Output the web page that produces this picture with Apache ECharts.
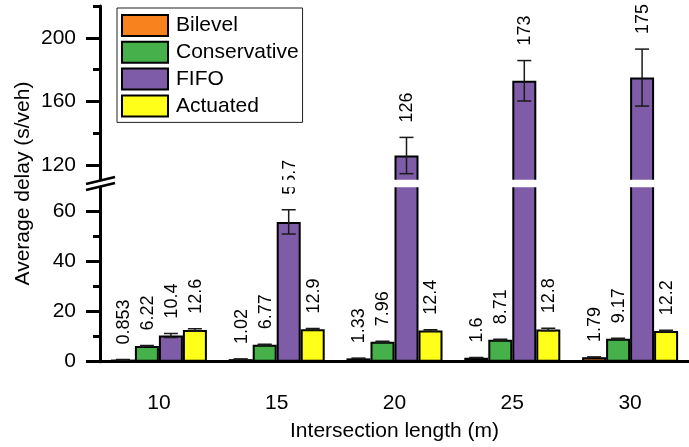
<!DOCTYPE html>
<html>
<head>
<meta charset="utf-8">
<script src="https://cdn.jsdelivr.net/npm/echarts@6/dist/echarts.min.js"></script>
<style>html,body{margin:0;padding:0;background:#fff;}#c{width:689px;height:447px;}</style>
</head>
<body>
<div id="c"></div>
<script>
// ---- data ----
const categories = ['10', '15', '20', '25', '30'];
const seriesNames = ['Bilevel', 'Conservative', 'FIFO', 'Actuated'];
const bilevel = [0.853, 1.02, 1.33, 1.6, 1.79];
const conservative = [6.22, 6.77, 7.96, 8.71, 9.17];
const fifo = [10.4, 55.7, 126, 173, 175];
const actuated = [12.6, 12.9, 12.4, 12.8, 12.2];
const bilevelErr = [0.05, 0.05, 0.05, 0.05, 0.05];
const conservativeErr = [0.2, 0.2, 0.2, 0.2, 0.2];
const fifoErr = [0.8, 4.8, 11.4, 12.7, 17.9];
const actuatedErr = [0.5, 0.3, 0.3, 0.5, 0.3];
const lowerRange = [0, 70];
const upperRange = [110, 220];
const lowerTicks = [0, 20, 40, 60];
const lowerMinorTicks = [10, 30, 50];
const upperTicks = [120, 160, 200];
const upperMinorTicks = [140, 180, 220];

// ---- style ----
const colors = ['#F8821E', '#46B14B', '#7F5CA8', '#FFFF1A'];
const FONT = '"Liberation Sans", Arial, Helvetica, sans-serif';
const BAR_W = 24;
const GRID_LEFT = 100, GRID_W = 593;
const UP_TOP = 6, UP_BOTTOM = 181;
const LO_TOP = 186, LO_BOTTOM = 361.7;

const values = [bilevel, conservative, fifo, actuated];
const errors = [bilevelErr, conservativeErr, fifoErr, actuatedErr];

function items(range) {
  const out = [];
  values.forEach((arr, s) => arr.forEach((v, i) => {
    if (v >= range[0] && v <= range[1]) out.push([i, v, errors[s][i], s]);
  }));
  return out;
}

function errRender(params, api) {
  const i = api.value(0), v = api.value(1), e = api.value(2), s = api.value(3);
  const cx = api.coord([i, v])[0] + (s - 1.5) * BAR_W;
  const yTop = api.coord([i, v + e])[1];
  const yBot = api.coord([i, v - e])[1];
  const st = { stroke: '#1a1a1a', lineWidth: 1.5 };
  return { type: 'group', children: [
    { type: 'line', shape: { x1: cx, y1: yTop, x2: cx, y2: yBot }, style: st },
    { type: 'line', shape: { x1: cx - 7, y1: yTop, x2: cx + 7, y2: yTop }, style: st },
    { type: 'line', shape: { x1: cx - 7, y1: yBot, x2: cx + 7, y2: yBot }, style: st }
  ]};
}
function labelRender(params, api) {
  const i = api.value(0), v = api.value(1), e = api.value(2), s = api.value(3);
  const cx = api.coord([i, v])[0] + (s - 1.5) * BAR_W;
  const yTop = api.coord([i, v + e])[1];
  return { type: 'text', x: cx + 1, y: yTop - 15, rotation: Math.PI / 2,
    style: { text: String(v), fontSize: 18, fontFamily: FONT, fill: '#000', align: 'left', verticalAlign: 'middle' } };
}

const series = [];
seriesNames.forEach((name, s) => {
  series.push({ name, type: 'bar', xAxisIndex: 0, yAxisIndex: 0, data: values[s],
    barWidth: BAR_W, barGap: '0%', clip: true,
    itemStyle: { color: colors[s], borderColor: '#000', borderWidth: 2 } });
});
seriesNames.forEach((name, s) => {
  series.push({ name, type: 'bar', xAxisIndex: 1, yAxisIndex: 2,
    data: values[s].map(v => (v >= upperRange[0] ? v : null)),
    barWidth: BAR_W, barGap: '0%', clip: true,
    itemStyle: { color: colors[s], borderColor: '#000', borderWidth: 2 } });
});
series.push({ type: 'custom', xAxisIndex: 0, yAxisIndex: 0, clip: true, z: 5,
  data: items(lowerRange), renderItem: errRender, encode: { x: 0, y: 1 } });
series.push({ type: 'custom', xAxisIndex: 1, yAxisIndex: 2, clip: true, z: 5,
  data: items(upperRange), renderItem: errRender, encode: { x: 0, y: 1 } });
series.push({ type: 'custom', xAxisIndex: 0, yAxisIndex: 0, clip: false, z: 5,
  data: items(lowerRange), renderItem: labelRender, encode: { x: 0, y: 1 } });
series.push({ type: 'custom', xAxisIndex: 1, yAxisIndex: 2, clip: false, z: 5,
  data: items(upperRange), renderItem: labelRender, encode: { x: 0, y: 1 } });

const axisLineStyle = { color: '#000', width: 3 };
function yAxis(grid, range, ticks, minor, main) {
  return {
    type: 'value', gridIndex: grid, min: range[0], max: range[1], position: 'left',
    splitLine: { show: false },
    axisLine: { show: main, onZero: false, lineStyle: axisLineStyle },
    axisTick: { show: true, customValues: main ? ticks : minor, length: main ? 14 : 7, lineStyle: axisLineStyle },
    axisLabel: { show: main, customValues: ticks, margin: 24, fontSize: 21, fontFamily: FONT, color: '#000' }
  };
}

const breakY1 = UP_BOTTOM, breakY2 = LO_TOP;
const option = {
  animation: false,
  backgroundColor: '#fff',
  grid: [
    { left: GRID_LEFT, top: LO_TOP, width: GRID_W, height: LO_BOTTOM - LO_TOP },
    { left: GRID_LEFT, top: UP_TOP, width: GRID_W, height: UP_BOTTOM - UP_TOP }
  ],
  xAxis: [
    { type: 'category', gridIndex: 0, data: categories,
      axisLine: { lineStyle: axisLineStyle },
      axisTick: { alignWithLabel: true, length: 15, lineStyle: axisLineStyle },
      axisLabel: { margin: 31, fontSize: 21, fontFamily: FONT, color: '#000' },
      name: 'Intersection length (m)', nameLocation: 'middle', nameGap: 59,
      nameTextStyle: { fontSize: 21, fontFamily: FONT, color: '#000' } },
    { type: 'category', gridIndex: 1, data: categories, show: false }
  ],
  yAxis: [
    yAxis(0, lowerRange, lowerTicks, lowerMinorTicks, true),
    yAxis(0, lowerRange, lowerTicks, lowerMinorTicks, false),
    yAxis(1, upperRange, upperTicks, upperMinorTicks, true),
    yAxis(1, upperRange, upperTicks, upperMinorTicks, false)
  ],
  legend: {
    data: seriesNames, orient: 'vertical', left: 117, top: 8,
    itemWidth: 46, itemHeight: 21, itemGap: 3.8, icon: 'rect',
    padding: [6, 4, 5, 4],
    borderColor: '#222', borderWidth: 1, backgroundColor: '#fff',
    itemStyle: { borderColor: '#000', borderWidth: 2 },
    textStyle: { fontSize: 21, lineHeight: 21, fontFamily: FONT, color: '#000', padding: [0, 0, 0, 3] }
  },
  graphic: [
    { type: 'rect', z: 50, shape: { x: GRID_LEFT + 1.6, y: breakY1 - 1.2, width: 600, height: breakY2 - breakY1 + 2.4 },
      style: { fill: '#fff' } },
    { type: 'line', z: 51, shape: { x1: GRID_LEFT, y1: breakY1 - 1, x2: GRID_LEFT, y2: breakY2 + 1 }, style: { stroke: '#000', lineWidth: 3 } },
    { type: 'polygon', z: 52, shape: { points: [[86, 184], [115, 177], [115, 183], [86, 190]] }, style: { fill: '#fff' } },
    { type: 'line', z: 53, shape: { x1: 86, y1: 184, x2: 115, y2: 177 }, style: { stroke: '#000', lineWidth: 2.5 } },
    { type: 'line', z: 53, shape: { x1: 86, y1: 190, x2: 115, y2: 183 }, style: { stroke: '#000', lineWidth: 2.5 } },
    { type: 'text', z: 53, x: 23, y: 183.5, rotation: Math.PI / 2,
      style: { text: 'Average delay (s/veh)', fontSize: 21, fontFamily: FONT, fill: '#000', align: 'center', verticalAlign: 'middle' } }
  ],
  series
};
const chart = echarts.init(document.getElementById('c'), null, { renderer: 'canvas' });
chart.setOption(option);
</script>
</body>
</html>
